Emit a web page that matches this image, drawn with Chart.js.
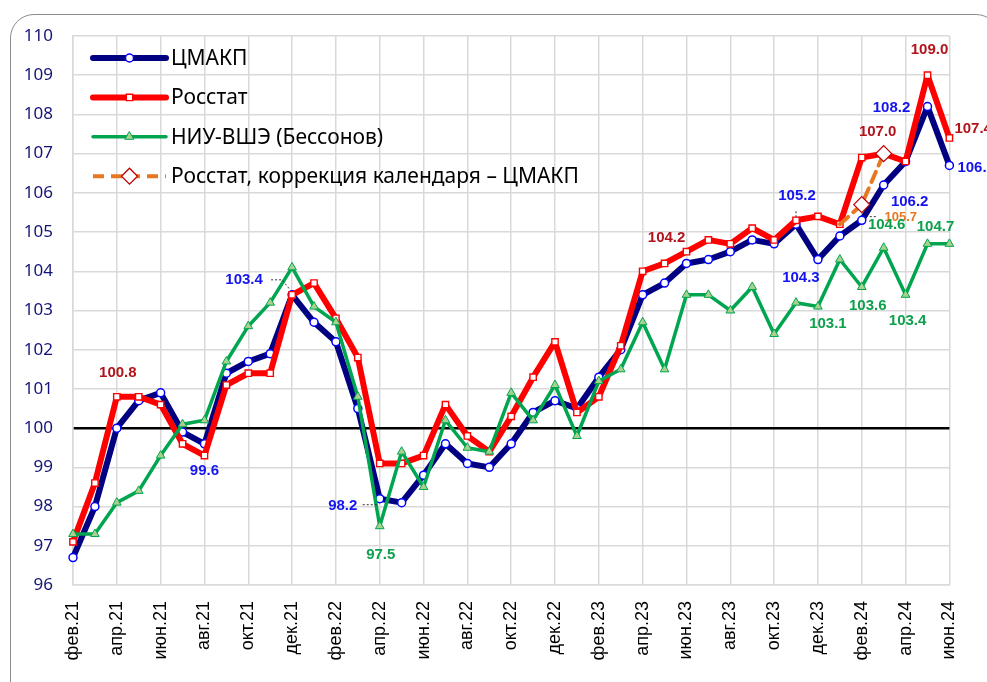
<!DOCTYPE html>
<html><head><meta charset="utf-8">
<script src="https://cdn.jsdelivr.net/npm/chart.js@4.4.1/dist/chart.umd.min.js"></script>
<style>
html,body{margin:0;padding:0;background:#fff;overflow:hidden;}
#wrap{position:relative;width:987px;height:682px;}
#frame{position:absolute;left:10px;top:14px;width:990px;height:700px;border:1.5px solid #8c8c8c;border-radius:24px;box-sizing:border-box;}
canvas{position:absolute;left:0;top:0;}
</style></head>
<body><div id="wrap"><div id="frame"></div><canvas id="c" width="987" height="682"></canvas></div>
<script>
const months = ['фев.21','мар.21','апр.21','май.21','июн.21','июл.21','авг.21','сен.21','окт.21','ноя.21','дек.21',
'янв.22','фев.22','мар.22','апр.22','май.22','июн.22','июл.22','авг.22','сен.22','окт.22','ноя.22','дек.22',
'янв.23','фев.23','мар.23','апр.23','май.23','июн.23','июл.23','авг.23','сен.23','окт.23','ноя.23','дек.23',
'янв.24','фев.24','мар.24','апр.24','май.24','июн.24'];
const cmakp = [96.7,98.0,100.0,100.7,100.9,99.9,99.6,101.4,101.7,101.9,103.4,102.7,102.2,100.5,98.2,98.1,98.8,99.6,99.1,99.0,99.6,100.4,100.7,100.5,101.3,102.0,103.4,103.7,104.2,104.3,104.5,104.8,104.7,105.2,104.3,104.9,105.3,106.2,106.8,108.2,106.7];
const rosstat = [97.1,98.6,100.8,100.8,100.6,99.6,99.3,101.1,101.4,101.4,103.4,103.7,102.8,101.8,99.1,99.1,99.3,100.6,99.8,99.4,100.3,101.3,102.2,100.4,100.8,102.1,104.0,104.2,104.5,104.8,104.7,105.1,104.8,105.3,105.4,105.2,106.9,107.0,106.8,109.0,107.4];
const hse = [97.3,97.3,98.1,98.4,99.3,100.1,100.2,101.7,102.6,103.2,104.1,103.1,102.7,100.8,97.5,99.4,98.5,100.2,99.5,99.4,100.9,100.2,101.1,99.8,101.2,101.5,102.7,101.5,103.4,103.4,103.0,103.6,102.4,103.2,103.1,104.3,103.6,104.6,103.4,104.7,104.7];
const rosstatCal = [null,null,null,null,null,null,null,null,null,null,null,null,null,null,null,null,null,null,null,null,null,null,null,null,null,null,null,null,null,null,null,null,null,null,null,105.2,105.7,107.0,null,null,null];
const seriesNames = ['ЦМАКП','Росстат','НИУ-ВШЭ (Бессонов)','Росстат, коррекция календаря – ЦМАКП'];
const yTicks = {min:96, max:110, step:1};

const C_BLUE_LINE='#000080', C_BLUE='#0000ff', C_RED='#ff0000', C_DRED='#b2141c', C_GREEN='#00a550', C_GREENL='#a9d18e', C_ORANGE='#e87722', C_LBLUE='#1414f0', C_LGREEN='#0ea04c';

// label annotations: series (legend index), point index, offset, color, align
const notes = [
 {d:0,i:10,dx:-48,dy:-15,c:C_LBLUE,leader:[[-21,-15],[-10,-15],[-2,-5]]},
 {d:1,i:2,dx:1,dy:-24,c:C_DRED},
 {d:0,i:6,dx:0,dy:27,c:C_LBLUE},
 {d:0,i:14,dx:-37,dy:7,c:C_LBLUE,leader:[[-17,6],[-3,6]]},
 {d:2,i:14,dx:1,dy:29,c:C_LGREEN},
 {d:1,i:27,dx:2,dy:-26,c:C_DRED},
 {d:0,i:33,dx:1,dy:-28,c:C_LBLUE,leader:[[0,-13],[0,-6]]},
 {d:0,i:34,dx:-17,dy:18,c:C_LBLUE},
 {d:2,i:34,dx:10,dy:17,c:C_LGREEN},
 {d:1,i:37,dx:-6,dy:-22,c:C_DRED},
 {d:0,i:37,dx:26,dy:17,c:C_LBLUE},
 {d:3,i:36,dx:39,dy:13,c:C_ORANGE,small:true,leader:[[8,12],[14,12]]},
 {d:2,i:37,dx:3,dy:-23,c:C_LGREEN},
 {d:2,i:36,dx:6,dy:19,c:C_LGREEN},
 {d:2,i:38,dx:2,dy:26,c:C_LGREEN},
 {d:0,i:39,dx:-36,dy:1,c:C_LBLUE},
 {d:2,i:39,dx:8,dy:-17,c:C_LGREEN},
 {d:1,i:39,dx:2,dy:-25,c:C_DRED},
 {d:1,i:40,dx:5,dy:-9,c:C_DRED,align:'left'},
 {d:0,i:40,dx:8,dy:2,c:C_LBLUE,align:'left'}
];

const overlay = {
 id:'overlay',
 afterDatasetsDraw(chart){
  const ctx = chart.ctx, xs = chart.scales.x, ys = chart.scales.y;
  const byLegend = chart.data.datasets.slice().sort((a,b)=>a.legendIndex-b.legendIndex);
  ctx.save();
  notes.forEach(n=>{
   const v = byLegend[n.d].data[n.i];
   if(v==null) return;
   const px = xs.getPixelForValue(n.i), py = ys.getPixelForValue(v);
   if(n.leader){
     ctx.beginPath(); ctx.setLineDash([2,2]); ctx.lineWidth=1; ctx.strokeStyle='#333';
     n.leader.forEach((p,k)=>{ if(k===0) ctx.moveTo(px+p[0],py+p[1]); else ctx.lineTo(px+p[0],py+p[1]); });
     ctx.stroke(); ctx.setLineDash([]);
   }
   ctx.font = n.small ? 'bold 13px "Liberation Sans", Arial' : 'bold 15px "Liberation Sans", Arial';
   ctx.fillStyle = n.c; ctx.textAlign = n.align||'center'; ctx.textBaseline='middle';
   ctx.fillText(v.toFixed(1), px+n.dx, py+n.dy);
  });
  const lx0=93, lx1=166, ly0=58, step=39.4;
  byLegend.forEach((d,k)=>{
   const y = ly0 + k*step;
   ctx.beginPath(); ctx.lineCap = d.borderDash ? 'butt':'round';
   ctx.setLineDash(d.borderDash||[]);
   ctx.strokeStyle=d.borderColor; ctx.lineWidth=d.borderWidth;
   ctx.moveTo(lx0,y); ctx.lineTo(lx1,y); ctx.stroke(); ctx.setLineDash([]);
   const r = d.legendRadius, cx=(lx0+lx1)/2;
   ctx.fillStyle=d.pointBackgroundColor; ctx.strokeStyle=d.pointBorderColor; ctx.lineWidth=d.pointBorderWidth;
   Chart.helpers.drawPoint(ctx,{pointStyle:d.pointStyle,rotation:0,radius:r,borderWidth:d.pointBorderWidth},cx,y);
   ctx.font='21px "Noto Sans", sans-serif'; ctx.fillStyle='#000'; ctx.textAlign='left'; ctx.textBaseline='middle';
   ctx.fillText(d.label, 171, y+1);
  });
  ctx.restore();
 }
};

new Chart(document.getElementById('c'),{
 type:'line',
 data:{labels:months,datasets:[
  {label:seriesNames[3],data:rosstatCal,order:0,legendIndex:3,borderColor:C_ORANGE,borderWidth:4,borderDash:[11,7],
   pointStyle:'rectRot',pointRadius:rosstatCal.map((v,i)=>(i===36||i===37)?8:0),legendRadius:8,
   pointBackgroundColor:'#fff',pointBorderColor:'#c00000',pointBorderWidth:1.3,spanGaps:false},
  {label:seriesNames[2],data:hse,order:1,legendIndex:2,borderColor:C_GREEN,borderWidth:3.5,
   pointStyle:'triangle',pointRadius:5,legendRadius:5,pointBackgroundColor:C_GREENL,pointBorderColor:C_GREEN,pointBorderWidth:1},
  {label:seriesNames[1],data:rosstat,order:2,legendIndex:1,borderColor:C_RED,borderWidth:6,
   pointStyle:'rect',pointRadius:4.5,legendRadius:4.5,pointBackgroundColor:'#fff',pointBorderColor:C_RED,pointBorderWidth:1.4},
  {label:seriesNames[0],data:cmakp,order:3,legendIndex:0,borderColor:C_BLUE_LINE,borderWidth:6,
   pointStyle:'circle',pointRadius:4,legendRadius:4,pointBackgroundColor:'#fff',pointBorderColor:C_BLUE,pointBorderWidth:1.5}
 ]},
 options:{
  responsive:false,animation:false,
  layout:{padding:{left:0,top:36,right:37,bottom:0}},
  elements:{line:{tension:0,borderJoinStyle:'round',borderCapStyle:'round'}},
  plugins:{legend:{display:false},tooltip:{enabled:false}},
  scales:{
   x:{offset:false,
      grid:{drawTicks:false,color:c=>c.index%2===0?'#d9d9d9':'rgba(0,0,0,0)',lineWidth:1.5},
      border:{color:'#d9d9d9',width:1.5},
      ticks:{autoSkip:false,minRotation:90,maxRotation:90,padding:16,color:'#000',
        font:{family:'"Liberation Sans", Arial',size:18},
        callback:(v,i)=>i%2===0?months[i]:''},
      afterFit:s=>{s.height=97;}},
   y:{min:yTicks.min,max:yTicks.max,
      grid:{drawTicks:false,color:c=>c.tick&&c.tick.value===100?'#000':'#d9d9d9',lineWidth:c=>c.tick&&c.tick.value===100?2.5:1.5},
      border:{color:'#d9d9d9',width:1.5},
      ticks:{stepSize:yTicks.step,padding:20,color:'#141478',font:{family:'"Noto Sans", sans-serif',size:17}},
      afterFit:s=>{s.width=73;}}
  }
 },
 plugins:[overlay]
});
</script></body></html>
